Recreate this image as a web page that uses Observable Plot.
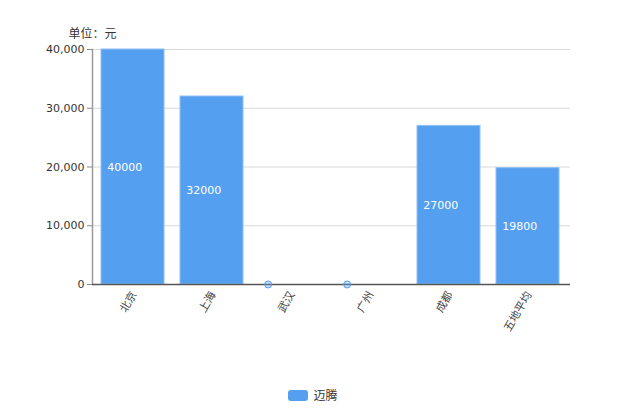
<!DOCTYPE html>
<html>
<head>
<meta charset="utf-8">
<script src="https://cdn.jsdelivr.net/npm/d3@7"></script>
<script src="https://cdn.jsdelivr.net/npm/@observablehq/plot@0.6"></script>
<style>
  body { margin: 0; background: #fff; font-family: "DejaVu Sans", "Noto Sans CJK SC", sans-serif; }
  #wrap { position: relative; width: 620px; height: 413px; }
  #legend { position: absolute; left: 0; width: 620px; top: 386px; text-align: center; font-size: 12px; color: #333; font-family: "Noto Sans CJK SC", sans-serif; padding-left: 6px; box-sizing: border-box; }
  #legend .sw { display: inline-block; width: 20px; height: 11px; border-radius: 3px; background: #559ff0; vertical-align: -1px; margin-right: 5px; }
</style>
</head>
<body>
<div id="wrap"><div id="chart"></div><div id="legend"><span class="sw"></span>迈腾</div></div>
<script>
const categories = ["北京", "上海", "武汉", "广州", "成都", "五地平均"];
const values = [40000, 32000, 0, 0, 27000, 19800];
const seriesName = "迈腾";
const unitLabel = "单位：元";
const yTicks = [0, 10000, 20000, 30000, 40000];

const data = categories.map((c, i) => ({category: c, value: values[i]}));
const color = "#559ff0";
const step = (620 - 92 - 50) / categories.length;
const bw = step * 0.8;

const chart = Plot.plot({
  width: 620,
  height: 380,
  marginLeft: 92,
  marginRight: 50,
  marginTop: 49,
  marginBottom: 96,
  style: {fontFamily: '"DejaVu Sans", "Noto Sans CJK SC", sans-serif', fontSize: "11px", color: "#333"},
  x: {domain: categories, paddingInner: 0.2, paddingOuter: 0.1, label: null},
  y: {domain: [0, 40000], label: null},
  marks: [
    Plot.gridY(yTicks, {stroke: "#d8d8d8", strokeOpacity: 1}),
    Plot.axisY(yTicks, {tickFormat: d3.format(","), tickSize: 5, tickPadding: 3, stroke: "#888", fontSize: 11, label: null}),
    Plot.axisX({tickSize: 0, tickPadding: 8, tickRotate: -60, fontSize: 11, label: null, fill: "#444", fontFamily: '"Noto Sans CJK SC", sans-serif'}),
    Plot.barY(data, {x: "category", y: "value", fill: color, stroke: "#8fc0f6", strokeWidth: 1, dx: -1}),
    Plot.frame({anchor: "left", stroke: "#999", strokeWidth: 1.5}),
    Plot.ruleY([0], {stroke: "#555", strokeWidth: 1.5}),
    Plot.text(data.filter(d => d.value > 0), {x: "category", y: d => d.value / 2, text: d => String(d.value), fill: "white", textAnchor: "start", dx: -bw / 2 + 5, fontSize: 11}),
    Plot.dot(data.filter(d => d.value === 0), {x: "category", y: "value", r: 3.5, dx: -bw / 2 + 8, fill: color, fillOpacity: 0.35, stroke: color, strokeWidth: 1}),
    Plot.text([unitLabel], {frameAnchor: "top-left", text: d => d, dy: -20, textAnchor: "middle", fontSize: 12, fill: "#333", fontFamily: '"Noto Sans CJK SC", sans-serif'})
  ]
});
document.getElementById("chart").appendChild(chart);
</script>
</body>
</html>
